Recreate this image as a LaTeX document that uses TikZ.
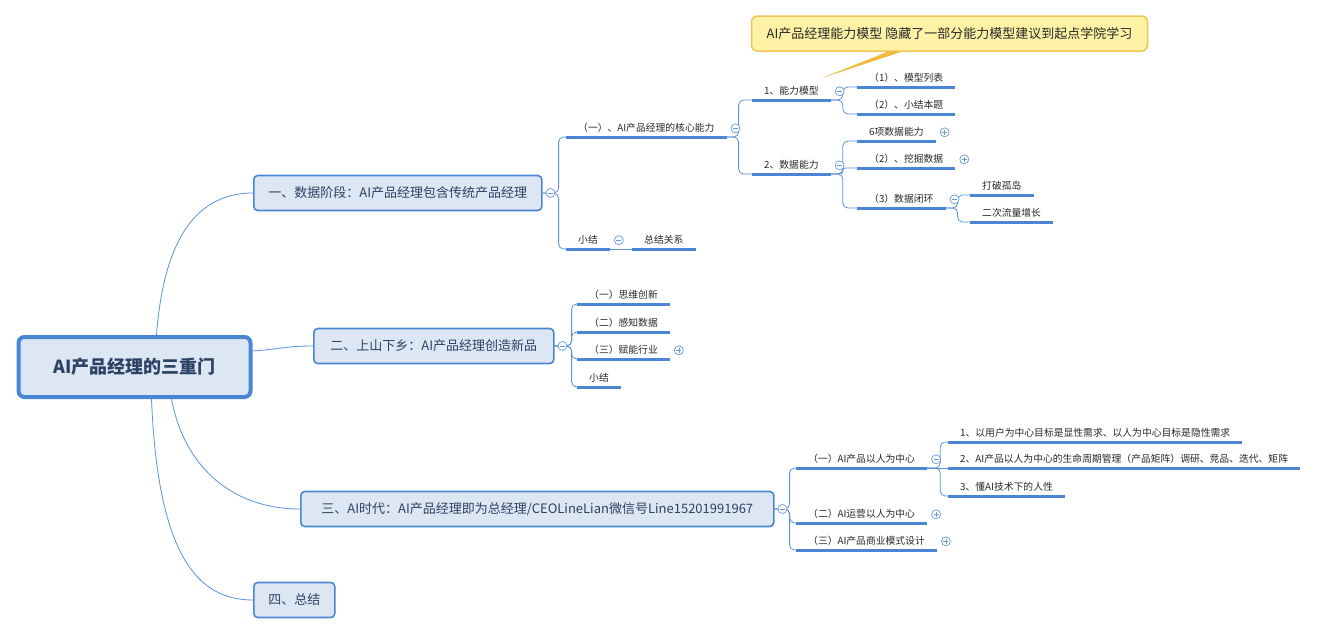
\documentclass[tikz,border=0pt]{standalone}
\usepackage{fontspec}
\setmainfont{Noto Sans CJK SC}
\usepackage{tikz}
\usetikzlibrary{
  positioning,
  calc,
  backgrounds
}
\definecolor{lineblue}{RGB}{74,134,212}
\definecolor{connblue}{RGB}{92,146,218}
\definecolor{icblue}{RGB}{104,152,222}
\definecolor{boxfill}{RGB}{221,230,243}
\definecolor{boxtext}{RGB}{44,66,100}
\definecolor{subtext}{RGB}{40,40,40}
\definecolor{callfill}{RGB}{254,242,166}
\definecolor{calledge}{RGB}{242,196,84}
\definecolor{callptr}{RGB}{242,184,60}

\begin{document}
\begin{tikzpicture}[x=1pt, y=-1pt,
			root/.style={draw=lineblue, line width=4pt, fill=boxfill, rounded corners=6pt,
				minimum width=232pt, minimum height=60pt, text=boxtext,
				font=\fontsize{18}{20}\selectfont\bfseries},
			topic/.style={draw=lineblue, line width=1.6pt, fill=boxfill, rounded corners=4pt,
				minimum height=35pt, inner xsep=12pt, text=boxtext, anchor=west,
				font=\fontsize{13}{15}\selectfont},
			sub/.style={anchor=south west, inner xsep=12pt, inner ysep=3.5pt,
				text height=8.5pt, text depth=1.5pt, text=subtext,
				font=\fontsize{9.8}{12}\selectfont,
				append after command={(\tikzlastnode.south west)
					edge[draw=lineblue, line width=3pt] (\tikzlastnode.south east)}},
			conn/.style={draw=connblue, line width=0.8pt, rounded corners=5pt},
			ic/.style={circle, draw=icblue, fill=white, line width=0.7pt,
				minimum size=9pt, inner sep=0pt},
			minus/.style={ic, path picture={\draw[icblue, line width=0.7pt]
					([xshift=2pt]path picture bounding box.west) --
					([xshift=-2pt]path picture bounding box.east);}},
			plus/.style={ic, path picture={\draw[icblue, line width=0.7pt]
					([xshift=2pt]path picture bounding box.west) --
					([xshift=-2pt]path picture bounding box.east)
					([yshift=2pt]path picture bounding box.south) --
					([yshift=-2pt]path picture bounding box.north);}},
			call/.style={draw=calledge, line width=1.5pt, fill=callfill, rounded corners=6pt,
				minimum width=396pt, minimum height=35pt, text=subtext,
				font=\fontsize{13}{15}\selectfont}
			]
			\useasboundingbox (0,0) rectangle (1331,635);
			\begin{scope}[on background layer]
			\fill[white] (0,0) rectangle (1331,635);
			\end{scope}
			% central topic
			\node[root] (root) at (134.5,367) {AI产品经理的三重门};
			% main topics
			\node[topic, minimum width=288pt] (t1) at (253,193) {一、数据阶段：AI产品经理包含传统产品经理};
			\node[topic, minimum width=240pt] (t2) at (313,346) {二、上山下乡：AI产品经理创造新品};
			\node[topic, minimum width=473pt] (t3) at (300,509) {三、AI时代：AI产品经理即为总经理/CEOLineLian微信号Line15201991967};
			\node[topic, minimum width=81pt] (t4) at (253,600) {四、总结};
			\draw[conn] ([xshift=22pt]root.north) .. controls (163,250) and (190,193) .. (t1.west);
			\draw[conn] ([yshift=16pt]root.east) .. controls (282,349) and (285,346) .. (t2.west);
			\draw[conn] ([xshift=37pt]root.south) .. controls (185,470) and (235,509) .. (t3.west);
			\draw[conn] ([xshift=17pt]root.south) .. controls (158,560) and (200,600) .. (t4.west);
			% branch 1
			\node[sub] (a1) at (566,137) {（一）、AI产品经理的核心能力};
			\node[sub] (a2) at (566,249) {小结};
			\node[sub] (a21) at (632,249) {总结关系};
			\node[sub] (b1) at (752,100) {1、能力模型};
			\node[sub] (b2) at (752,174) {2、数据能力};
			\node[sub] (b11) at (857,87) {（1）、模型列表};
			\node[sub] (b12) at (857,114) {（2）、小结本题};
			\node[sub] (b21) at (857,141) {6项数据能力};
			\node[sub] (b22) at (857,168) {（2）、挖掘数据};
			\node[sub] (b23) at (857,208) {（3）数据闭环};
			\node[sub] (b231) at (970,195) {打破孤岛};
			\node[sub] (b232) at (970,222) {二次流量增长};
			\draw[conn] (t1.east) -- ++(16,0) |- (a1.south west);
			\draw[conn] (t1.east) -- ++(16,0) |- (a2.south west);
			\draw[conn] (a2.south east) -- (a21.south west);
			\draw[conn] (a1.south east) -- ++(12,0) |- (b1.south west);
			\draw[conn] (a1.south east) -- ++(12,0) |- (b2.south west);
			\draw[conn] (b1.south east) -- ++(12,0) |- (b11.south west);
			\draw[conn] (b1.south east) -- ++(12,0) |- (b12.south west);
			\draw[conn] (b2.south east) -- ++(12,0) |- (b21.south west);
			\draw[conn, rounded corners=2.5pt] (b2.south east) -- ++(12,0) |- (b22.south west);
			\draw[conn] (b2.south east) -- ++(12,0) |- (b23.south west);
			\draw[conn] (b23.south east) -- ++(12,0) |- (b231.south west);
			\draw[conn] (b23.south east) -- ++(12,0) |- (b232.south west);
			% branch 2
			\node[sub] (d1) at (577,304) {（一）思维创新};
			\node[sub] (d2) at (577,332) {（二）感知数据};
			\node[sub] (d3) at (577,359) {（三）赋能行业};
			\node[sub] (d4) at (577,387) {小结};
			\foreach \c in {d1,d2,d3,d4}
				\draw[conn] (t2.east) -- ++(17,0) |- (\c.south west);
			% branch 3
			\node[sub] (e1) at (796,468) {（一）AI产品以人为中心};
			\node[sub] (e2) at (796,523) {（二）AI运营以人为中心};
			\node[sub] (e3) at (796,550) {（三）AI产品商业模式设计};
			\node[sub] (e11) at (948,442) {1、以用户为中心目标是显性需求、以人为中心目标是隐性需求};
			\node[sub] (e12) at (948,468) {2、AI产品以人为中心的生命周期管理（产品矩阵）调研、竞品、迭代、矩阵};
			\node[sub] (e13) at (948,496) {3、懂AI技术下的人性};
			\foreach \c in {e1,e2,e3}
				\draw[conn] (t3.east) -- ++(15,0) |- (\c.south west);
			\draw[conn] (e1.south east) -- ++(13,0) |- (e11.south west);
			\draw[conn] (e1.south east) -- (e12.south west);
			\draw[conn] (e1.south east) -- ++(13,0) |- (e13.south west);
			% fold markers
			\node[minus, right=3pt of t1] (k1) {};
			\node[minus, right=3pt of t2] (k2) {};
			\node[minus, right=3pt of t3] (k3) {};
			\node[minus, right=4pt of a1] (ka1) {};
			\node[minus, right=4pt of a2] (ka2) {};
			\node[minus, right=4pt of b1] (kb1) {};
			\node[minus, right=4pt of b2] (kb2) {};
			\node[plus, right=4pt of b21] (kb21) {};
			\node[plus, right=4pt of b22] (kb22) {};
			\node[minus, right=4pt of b23] (kb23) {};
			\node[plus, right=4pt of d3] (kd3) {};
			\node[minus, right=4pt of e1] (ke1) {};
			\node[plus, right=4pt of e2] (ke2) {};
			\node[plus, right=4pt of e3] (ke3) {};
			% callout
			\node[call] (note) at (949.5,33.5) {AI产品经理能力模型 隐藏了一部分能力模型建议到起点学院学习};
			\coordinate (tip) at (822,78);
			\begin{scope}[on background layer]
			\fill[callptr] ([xshift=-62pt]note.south) -- (tip) -- ([xshift=-48pt]note.south) -- cycle;
			\end{scope}
	\end{tikzpicture}
\end{document}
